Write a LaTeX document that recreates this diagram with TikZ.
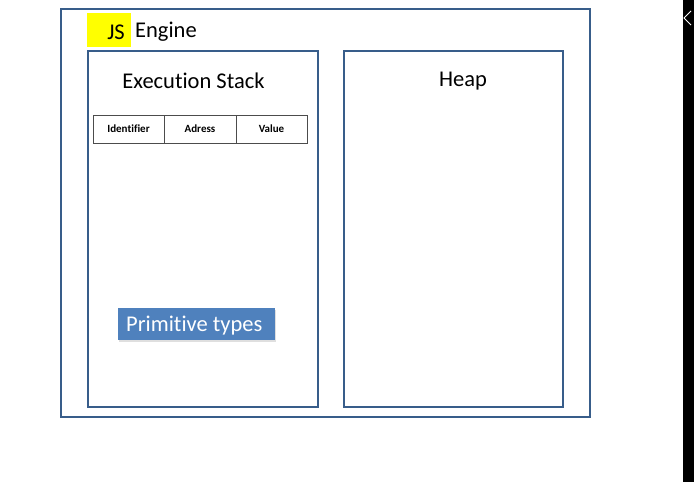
\documentclass[tikz,border=0pt]{standalone}
\usepackage{fontspec}
\setmainfont[Ligatures=NoCommon]{Carlito}
\usetikzlibrary{shadows}
\definecolor{frame}{HTML}{385D8A}
\definecolor{accent}{HTML}{4F81BD}
\definecolor{jsyellow}{HTML}{FFFF00}
\begin{document}
\begin{tikzpicture}[x=1pt,y=-1pt,
  panel/.style={draw=frame,line width=1.8pt},
  title/.style={font=\fontsize{22.5}{26}\selectfont,text=black,inner sep=0pt},
  cell/.style={draw=black!70,line width=0.7pt,minimum height=28pt,inner sep=0pt,font=\fontsize{11}{12}\selectfont\bfseries},
  badge/.style={fill=accent,inner sep=0pt,drop shadow={opacity=0.25,shadow xshift=1pt,shadow yshift=-1.5pt}}
]
\useasboundingbox (0,0) rectangle (694,482);
\fill[white] (0,0) rectangle (683,482);
\fill[black] (683,0) rectangle (694,482);
\draw[white,line width=0.8pt] (691,11) -- (684,18) -- (691,25);
% outer engine box
\draw[panel] (61,9) rectangle (590,417);
\node[fill=jsyellow,minimum width=44pt,minimum height=34pt,inner sep=0pt] (js) at (109,30) {};
\node[title,anchor=east] (jst) at (125,32) {JS};
\node[title,anchor=west] (eng) at (135,32) {Engine};
% stack and heap
\draw[panel] (88,51) rectangle (318,407);
\draw[panel] (344,51) rectangle (563,407);
\node[title] (es) at (193.5,81) {Execution Stack};
\node[title] (heap) at (463,81) {Heap};
% table
\node[cell,minimum width=71pt] (c1) at (128.5,129) {Identifier};
\node[cell,minimum width=72pt] (c2) at (200,129) {Adress};
\node[cell,minimum width=71pt] (c3) at (271.5,129) {Value};
% primitive types
\node[badge,minimum width=157pt,minimum height=32pt] (prim) at (196.5,324) {};
\node[title,text=white,anchor=west] (primt) at (126,326) {Primitive types};
\end{tikzpicture}
\end{document}
